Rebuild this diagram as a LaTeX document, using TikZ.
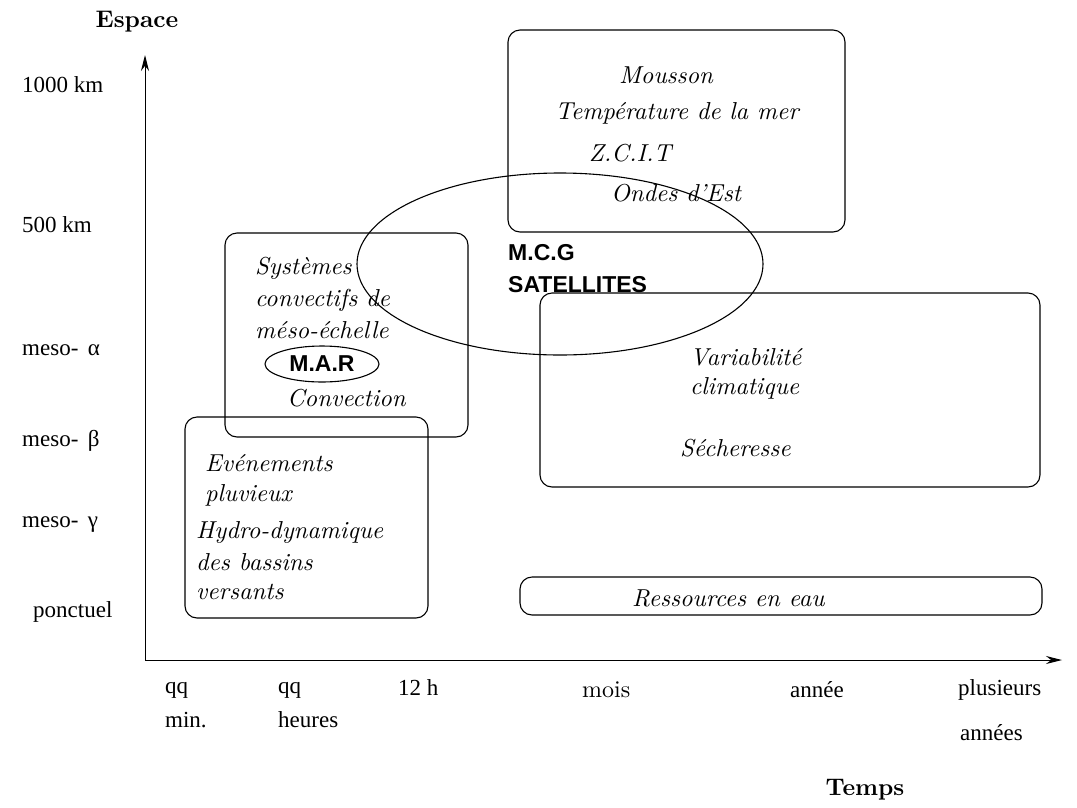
\documentclass[tikz,border=0pt]{standalone}
\usepackage{fontspec}
\setmainfont{lmroman10-regular.otf}[ItalicFont=lmroman10-italic.otf, BoldFont=lmroman10-bold.otf, BoldItalicFont=lmroman10-bolditalic.otf]
\newfontfamily\timesf{Liberation Serif}
\newfontfamily\helvf{Liberation Sans}
\usetikzlibrary{arrows.meta,shapes.geometric}
\tikzset{
  lbl/.style={font=\timesf\fontsize{23}{26}\selectfont, anchor=west, inner sep=0},
  itx/.style={font=\fontsize{24.5}{30}\selectfont\itshape, anchor=west, inner sep=0},
  rmx/.style={font=\fontsize{24}{30}\selectfont, anchor=west, inner sep=0},
  sansb/.style={font=\helvf\bfseries\fontsize{23}{26}\selectfont, anchor=west, inner sep=0},
  ttl/.style={font=\bfseries\fontsize{24}{30}\selectfont, inner sep=0},
  zone/.style={draw, rectangle, rounded corners=12, line width=1.1pt, inner sep=0},
  oval/.style={draw, ellipse, line width=1.1pt, inner sep=0},
  axis/.style={line width=1pt, -{Stealth[length=16pt,width=8pt]}}
}
\begin{document}
\begin{tikzpicture}[x=1pt,y=-1pt]
\useasboundingbox (0,0) rectangle (1077,807);
% axes
\coordinate (origin) at (145,660);
\coordinate (ytip) at (145,55);
\coordinate (xtip) at (1062,660);
\draw[axis] (origin) -- (ytip);
\draw[axis] (origin) -- (xtip);
\node[ttl] (espace) at (137,22) {Espace};
\node[ttl] (temps) at (865,790) {Temps};
% y labels
\node[lbl] (y1000) at (22,85) {1000 km};
\node[lbl] (y500) at (22,225) {500 km};
\node[lbl] (yalpha) at (22,350) {meso-\, α};
\node[lbl] (ybeta) at (22,441) {meso-\, β};
\node[lbl] (ygamma) at (22,525) {meso-\, γ};
\node[lbl] (yponct) at (33,612) {ponctuel};
% x labels
\node[lbl] (xqq1) at (165,690) {qq};
\node[lbl] (xmin) at (165,720) {min.};
\node[lbl] (xqq2) at (278,690) {qq};
\node[lbl] (xheures) at (278,720) {heures};
\node[lbl] (x12h) at (398,688) {12 h};
\node[rmx] (xmois) at (582,690) {mois};
\node[lbl] (xannee) at (790,690) {année};
\node[lbl] (xplus) at (958,690) {plusieurs};
\node[lbl] (xannees) at (960,733) {années};
% boxes
\node[zone, minimum width=337, minimum height=202] (btop) at (676.5,131) {};
\node[zone, minimum width=243, minimum height=204] (bsys) at (346.5,335) {};
\node[zone, minimum width=243, minimum height=201] (bevt) at (306.5,517.5) {};
\node[zone, minimum width=500, minimum height=194] (bvar) at (790,390) {};
\node[zone, minimum width=522, minimum height=38] (bres) at (781,596) {};
% big ellipse
\node[oval, minimum width=406, minimum height=182] (mcg) at (560,264) {};
% top box texts
\node[itx, anchor=center] (tmous) at (666,75) {Mousson};
\node[itx, anchor=center] (ttemp) at (677,113) {Température de la mer};
\node[itx, anchor=center] (tzcit) at (630,153) {Z.C.I.T};
\node[itx, anchor=center] (tondes) at (676,193) {Ondes d'Est};
% mcg text
\node[sansb] (tmcg) at (508,253) {M.C.G};
\node[sansb] (tsat) at (508,285) {SATELLITES};
% systemes texts
\node[itx] (tsys1) at (255,268) {Systèmes};
\node[itx] (tsys2) at (255,300) {convectifs de};
\node[itx] (tsys3) at (255,330) {méso-échelle};
\node[oval, minimum width=114, minimum height=36, font=\helvf\bfseries\fontsize{23}{26}\selectfont] (mar) at (322,364) {M.A.R};
\node[itx] (tconv) at (287,398) {Convection};
% evenements texts
\node[itx] (tev1) at (205,463) {Evénements};
\node[itx] (tev2) at (205,495) {pluvieux};
\node[itx] (thy1) at (196,532) {Hydro-dynamique};
\node[itx] (thy2) at (196,562) {des bassins};
\node[itx] (thy3) at (196,592) {versants};
% variabilite texts
\node[itx] (tvar1) at (690,357) {Variabilité};
\node[itx] (tvar2) at (690,388) {climatique};
\node[itx] (tsech) at (680,448) {Sécheresse};
% ressources
\node[itx] (tres) at (632,598) {Ressources en eau};
\end{tikzpicture}
\end{document}
